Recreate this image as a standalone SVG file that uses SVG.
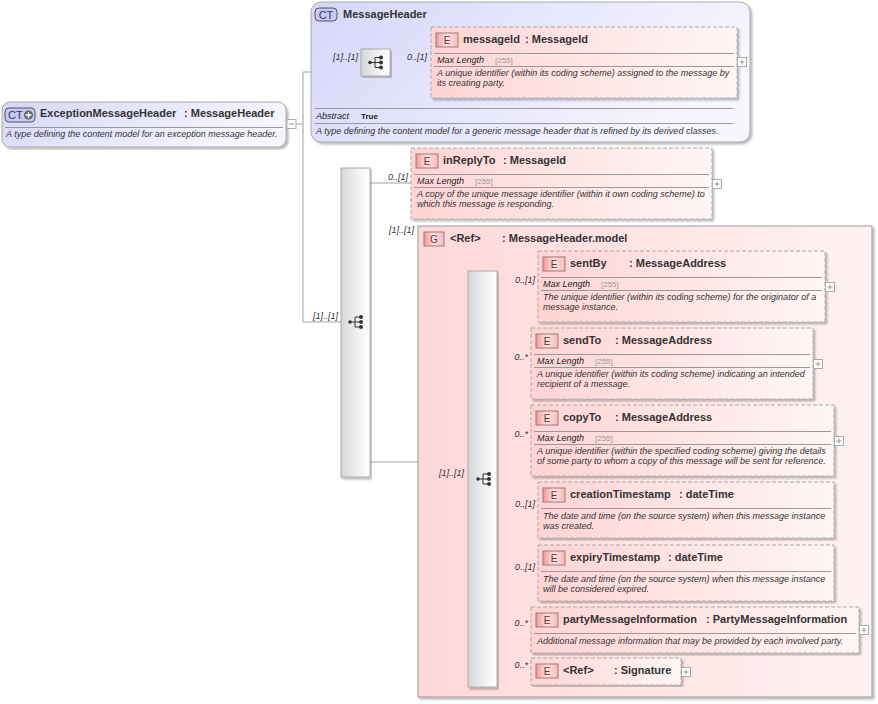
<svg xmlns="http://www.w3.org/2000/svg" width="878" height="704" viewBox="0 0 878 704">
<defs>
<linearGradient id="ctFill" x1="0" y1="0" x2="1" y2="0.3"><stop offset="0" stop-color="#d6d6fa"/><stop offset="1" stop-color="#f6f6ff"/></linearGradient>
<linearGradient id="elFill" x1="0" y1="0" x2="1" y2="0"><stop offset="0" stop-color="#ffd4d4"/><stop offset="1" stop-color="#fff6f6"/></linearGradient>
<linearGradient id="grFill" x1="0" y1="0" x2="1" y2="0"><stop offset="0" stop-color="#ffd8d8"/><stop offset="1" stop-color="#fff2f2"/></linearGradient>
<linearGradient id="seqFill" x1="0" y1="0" x2="1" y2="0"><stop offset="0" stop-color="#d6d6d6"/><stop offset="0.6" stop-color="#f2f2f2"/><stop offset="1" stop-color="#ffffff"/></linearGradient>
<linearGradient id="bdFill" x1="0" y1="0" x2="1" y2="0"><stop offset="0" stop-color="#f09a9a"/><stop offset="0.5" stop-color="#fde2e2"/><stop offset="1" stop-color="#f6baba"/></linearGradient>
<filter id="sh" x="-5%" y="-5%" width="110%" height="110%"><feDropShadow dx="2" dy="2" stdDeviation="1.2" flood-color="#000" flood-opacity="0.28"/></filter>
<g id="seqIcon" fill="#333" stroke="#333" stroke-width="1">
<circle cx="-6" cy="0" r="1.8" stroke="none"/>
<path d="M-6 0H-1M-1 -5V5M-1 -5H5M-1 0H5M-1 5H5" fill="none"/>
<circle cx="5" cy="-5" r="2" stroke="none"/><circle cx="5" cy="0" r="2" stroke="none"/><circle cx="5" cy="5" r="2" stroke="none"/>
</g>
<g id="plus"><rect x="0" y="0" width="9" height="9" fill="#fff" stroke="#aaa"/><path d="M2 4.5H7M4.5 2V7" stroke="#999" fill="none"/></g>
</defs>
<style>
text{font-family:"Liberation Sans",Arial,sans-serif}
.t{font-size:11px;font-weight:bold;fill:#333}
.d{font-size:9px;font-style:italic;fill:#333}
.ml{font-size:9px;font-style:italic;fill:#222}
.v{font-size:8px;fill:#999}
.c{font-size:9px;font-style:italic;fill:#333}
.bt{font-size:10px;fill:#633}
.ct{font-size:11px;fill:#33336a}
.sep{stroke:#999;stroke-width:1}
.con{stroke:#a0a0a0;stroke-width:1;fill:none}
.el{fill:url(#elFill);stroke:#aaa;stroke-dasharray:4 2;filter:url(#sh)}
.bd{fill:url(#bdFill);stroke:#a07878}
.seq{fill:url(#seqFill);stroke:#aaa;filter:url(#sh)}
</style>

<g id="connectors" class="con">
<path d="M296 124H303M303 72V322M303 72H311M303 322H341"/>
<path d="M311 62.5H361M390 62.5H431"/>
<path d="M370 183H411M370 462H418"/>
<path d="M418 479H468"/>
<path d="M497 286H538M497 363H531M497 440H531M497 510H538M497 573H538M497 629H531M497 673H531"/>
</g>

<g id="ExceptionMessageHeader">
<rect x="2" y="102" width="284" height="45" rx="8" fill="url(#ctFill)" stroke="#aaa" filter="url(#sh)"/>
<rect x="5" y="108" width="30" height="14" rx="4" fill="#c8c8f4" stroke="#555"/>
<text x="8" y="119" class="ct">CT</text>
<circle cx="28.5" cy="115" r="4.5" fill="#666"/>
<path d="M25.5 115H31.5M28.5 112V118" stroke="#fff" stroke-width="1.4"/>
<text x="40" y="117" class="t">ExceptionMessageHeader</text>
<text x="184" y="117" class="t">: MessageHeader</text>
<line x1="5" y1="127.5" x2="283" y2="127.5" class="sep"/>
<text x="6" y="137" class="d">A type defining the content model for an exception message header.</text>
<rect x="287" y="119.5" width="9" height="9" fill="#fff" stroke="#aaa"/>
<path d="M289 124H294" stroke="#999"/>
</g>

<g id="MessageHeader">
<rect x="311" y="2" width="439" height="140" rx="10" fill="url(#ctFill)" stroke="#aaa" filter="url(#sh)"/>
<rect x="315" y="8" width="22" height="13" rx="4" fill="#c8c8f4" stroke="#555"/>
<text x="326" y="18.5" class="ct" text-anchor="middle">CT</text>
<text x="343" y="18" class="t">MessageHeader</text>
<line x1="314" y1="108.5" x2="733" y2="108.5" class="sep"/>
<text x="316" y="119" class="ml">Abstract</text>
<text x="361" y="119" style="font-size:8px;font-weight:bold;fill:#222">True</text>
<line x1="314" y1="123.5" x2="733" y2="123.5" class="sep"/>
<text x="316" y="134" class="d">A type defining the content model for a generic message header that is refined by its derived classes.</text>
</g>

<g id="seq-messageHeader">
<rect x="361" y="49" width="29" height="27" class="seq"/>
<use href="#seqIcon" x="376" y="62.5"/>
</g>

<g id="messageId">
<rect x="431" y="27" width="306" height="71" class="el"/>
<rect x="436" y="33" width="22" height="14" class="bd"/>
<text x="447" y="44" class="bt" text-anchor="middle">E</text>
<text x="463" y="43" class="t">messageId</text><text x="525" y="43" class="t">: MessageId</text>
<line x1="434" y1="53.5" x2="734" y2="53.5" class="sep"/>
<text x="437" y="63" class="ml">Max Length</text><text x="495" y="63" class="v">[255]</text>
<line x1="434" y1="66.5" x2="734" y2="66.5" class="sep"/>
<text x="437" y="76" class="d">A unique identifier (within its coding scheme) assigned to the message by</text>
<text x="437" y="86" class="d">its creating party.</text>
<use href="#plus" x="737.5" y="57.5"/>
</g>

<g id="seq-main">
<rect x="341" y="168" width="29" height="309" class="seq"/>
<use href="#seqIcon" x="356" y="322"/>
</g>

<g id="inReplyTo">
<rect x="411" y="148" width="301" height="71" class="el"/>
<rect x="416" y="154" width="22" height="14" class="bd"/>
<text x="427" y="165" class="bt" text-anchor="middle">E</text>
<text x="443" y="164" class="t">inReplyTo</text><text x="503" y="164" class="t">: MessageId</text>
<line x1="414" y1="174.5" x2="709" y2="174.5" class="sep"/>
<text x="417" y="184" class="ml">Max Length</text><text x="475" y="184" class="v">[255]</text>
<line x1="414" y1="187.5" x2="709" y2="187.5" class="sep"/>
<text x="417" y="197" class="d">A copy of the unique message identifier (within it own coding scheme) to</text>
<text x="417" y="207" class="d">which this message is responding.</text>
<use href="#plus" x="712.5" y="179.5"/>
</g>

<g id="MessageHeader.model">
<rect x="418" y="226" width="454" height="471" fill="url(#grFill)" stroke="#999" filter="url(#sh)"/>
<rect x="424" y="232" width="20" height="14" class="bd"/>
<text x="434" y="243" class="bt" text-anchor="middle">G</text>
<text x="450" y="242" class="t">&lt;Ref&gt;</text><text x="502" y="242" class="t">: MessageHeader.model</text>
</g>

<g id="seq-model">
<rect x="468" y="271" width="29" height="416" class="seq"/>
<use href="#seqIcon" x="484" y="479"/>
</g>

<g id="sentBy">
<rect x="538" y="251" width="287" height="71" class="el"/>
<rect x="543" y="257" width="22" height="14" class="bd"/>
<text x="554" y="268" class="bt" text-anchor="middle">E</text>
<text x="570" y="267" class="t">sentBy</text><text x="629" y="267" class="t">: MessageAddress</text>
<line x1="541" y1="277.5" x2="822" y2="277.5" class="sep"/>
<text x="543" y="287" class="ml">Max Length</text><text x="601" y="287" class="v">[255]</text>
<line x1="541" y1="290.5" x2="822" y2="290.5" class="sep"/>
<text x="543" y="300" class="d">The unique identifier (within its coding scheme) for the originator of a</text>
<text x="543" y="310" class="d">message instance.</text>
<use href="#plus" x="825.5" y="282.5"/>
</g>

<g id="sendTo">
<rect x="531" y="328" width="282" height="71" class="el"/>
<rect x="536" y="334" width="22" height="14" class="bd"/>
<text x="547" y="345" class="bt" text-anchor="middle">E</text>
<text x="563" y="344" class="t">sendTo</text><text x="615" y="344" class="t">: MessageAddress</text>
<line x1="534" y1="354.5" x2="810" y2="354.5" class="sep"/>
<text x="537" y="364" class="ml">Max Length</text><text x="595" y="364" class="v">[255]</text>
<line x1="534" y1="367.5" x2="810" y2="367.5" class="sep"/>
<text x="537" y="377" class="d">A unique identifier (within its coding scheme) indicating an intended</text>
<text x="537" y="387" class="d">recipient of a message.</text>
<use href="#plus" x="813.5" y="359.5"/>
</g>

<g id="copyTo">
<rect x="531" y="405" width="303" height="71" class="el"/>
<rect x="536" y="411" width="22" height="14" class="bd"/>
<text x="547" y="422" class="bt" text-anchor="middle">E</text>
<text x="563" y="421" class="t">copyTo</text><text x="615" y="421" class="t">: MessageAddress</text>
<line x1="534" y1="431.5" x2="831" y2="431.5" class="sep"/>
<text x="537" y="441" class="ml">Max Length</text><text x="595" y="441" class="v">[255]</text>
<line x1="534" y1="444.5" x2="831" y2="444.5" class="sep"/>
<text x="537" y="454" class="d">A unique identifier (within the specified coding scheme) giving the details</text>
<text x="537" y="464" class="d">of some party to whom a copy of this message will be sent for reference.</text>
<use href="#plus" x="834.5" y="436.5"/>
</g>

<g id="creationTimestamp">
<rect x="538" y="482" width="296" height="56" class="el"/>
<rect x="543" y="488" width="22" height="14" class="bd"/>
<text x="554" y="499" class="bt" text-anchor="middle">E</text>
<text x="570" y="498" class="t">creationTimestamp</text><text x="679" y="498" class="t">: dateTime</text>
<line x1="541" y1="508.5" x2="831" y2="508.5" class="sep"/>
<text x="543" y="519" class="d">The date and time (on the source system) when this message instance</text>
<text x="543" y="529" class="d">was created.</text>
</g>

<g id="expiryTimestamp">
<rect x="538" y="545" width="296" height="56" class="el"/>
<rect x="543" y="551" width="22" height="14" class="bd"/>
<text x="554" y="562" class="bt" text-anchor="middle">E</text>
<text x="570" y="561" class="t">expiryTimestamp</text><text x="668" y="561" class="t">: dateTime</text>
<line x1="541" y1="571.5" x2="831" y2="571.5" class="sep"/>
<text x="543" y="582" class="d">The date and time (on the source system) when this message instance</text>
<text x="543" y="592" class="d">will be considered expired.</text>
</g>

<g id="partyMessageInformation">
<rect x="531" y="607" width="328" height="46" class="el"/>
<rect x="536" y="613" width="22" height="14" class="bd"/>
<text x="547" y="624" class="bt" text-anchor="middle">E</text>
<text x="563" y="623" class="t">partyMessageInformation</text><text x="706" y="623" class="t">: PartyMessageInformation</text>
<line x1="534" y1="633.5" x2="856" y2="633.5" class="sep"/>
<text x="537" y="644" class="d">Additional message information that may be provided by each involved party.</text>
<use href="#plus" x="859.5" y="625.5"/>
</g>

<g id="Signature">
<rect x="531" y="658" width="150" height="27" class="el"/>
<rect x="536" y="664" width="22" height="14" class="bd"/>
<text x="547" y="675" class="bt" text-anchor="middle">E</text>
<text x="563" y="674" class="t">&lt;Ref&gt;</text><text x="614" y="674" class="t">: Signature</text>
<use href="#plus" x="681.5" y="667.5"/>
</g>

<g id="cardinalities" class="c" text-anchor="end">
<text x="358" y="60">[1]..[1]</text>
<text x="427" y="60">0..[1]</text>
<text x="408" y="180">0..[1]</text>
<text x="338" y="319">[1]..[1]</text>
<text x="414" y="233">[1]..[1]</text>
<text x="464" y="476">[1]..[1]</text>
<text x="535" y="283">0..[1]</text>
<text x="528" y="360">0..*</text>
<text x="528" y="437">0..*</text>
<text x="535" y="507">0..[1]</text>
<text x="535" y="570">0..[1]</text>
<text x="528" y="626">0..*</text>
<text x="528" y="668">0..*</text>
</g>
</svg>
